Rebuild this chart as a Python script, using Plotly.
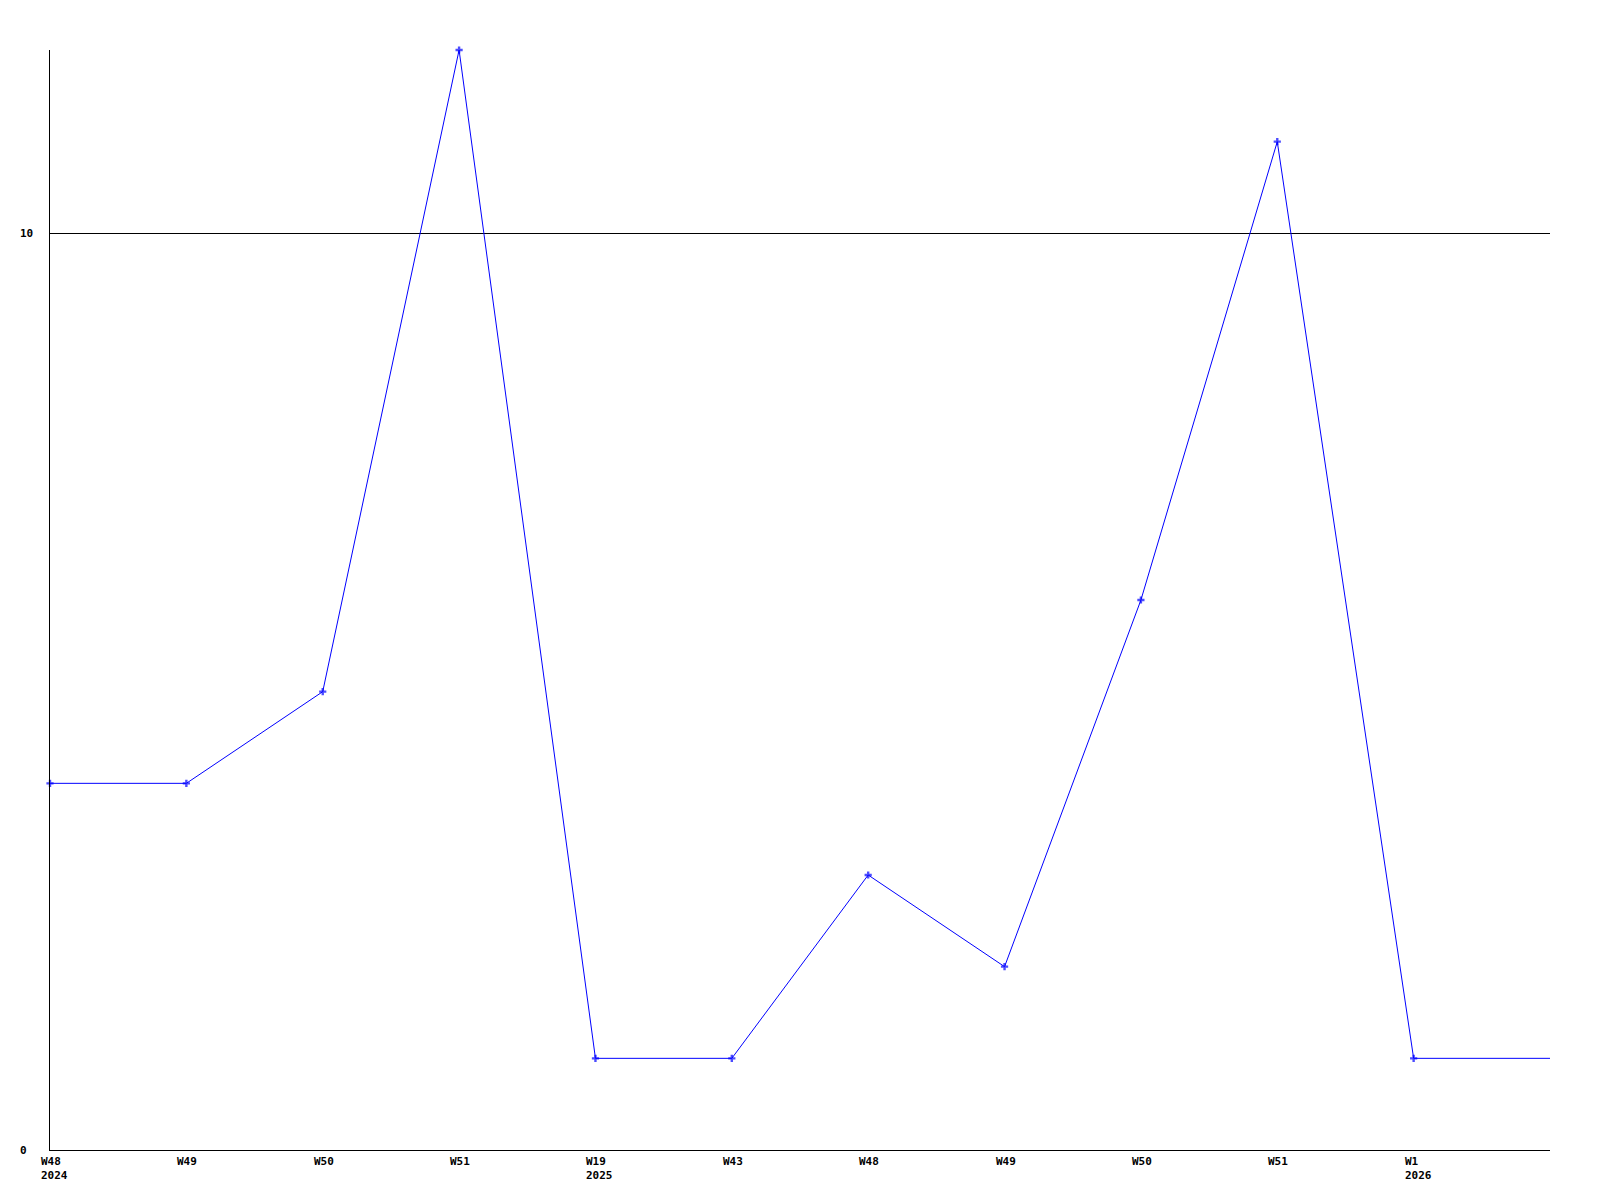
import plotly.graph_objects as go

week_labels = ["W48", "W49", "W50", "W51", "W19", "W43", "W48", "W49", "W50", "W51", "W1", ""]
year_labels = ["2024", "", "", "", "2025", "", "", "", "", "", "2026", ""]
values = [4, 4, 5, 12, 1, 1, 3, 2, 6, 11, 1, 1]
y_ticks = [0, 10]

idx = list(range(len(values)))
marker_sizes = [6] * (len(values) - 1) + [0]

fig = go.Figure()
fig.add_trace(go.Scatter(
    x=idx, y=values, mode="lines+markers",
    line=dict(color="#0000ff", width=1),
    marker=dict(symbol="cross", size=marker_sizes, color="#0000ff", line=dict(width=0)),
    cliponaxis=False, hoverinfo="skip",
))

font = dict(family="DejaVu Sans Mono", size=11, color="#000000", weight="bold")
annotations = []
for i, (w, yr) in enumerate(zip(week_labels, year_labels)):
    if not w:
        continue
    text = w + ("<br>" + yr if yr else "")
    annotations.append(dict(
        x=i, y=0, xref="x", yref="paper", text=text, showarrow=False,
        xanchor="left", yanchor="top", align="left", xshift=-11, yshift=-3,
        font=font,
    ))
for t in y_ticks:
    annotations.append(dict(
        x=0, y=t, xref="paper", yref="y", text=str(t), showarrow=False,
        xanchor="left", yanchor="middle", xshift=-32, font=font,
    ))

fig.update_layout(
    width=1584, height=1184,
    margin=dict(l=42, r=42, t=42, b=42),
    paper_bgcolor="white", plot_bgcolor="white",
    showlegend=False,
    annotations=annotations,
    xaxis=dict(range=[0, len(values) - 1], showgrid=False, zeroline=False,
               showticklabels=False, ticks="", showline=True, linecolor="black",
               linewidth=1, mirror=False),
    yaxis=dict(range=[0, 12], tickvals=[10], showgrid=True, gridcolor="black",
               gridwidth=1, zeroline=False, showticklabels=False, ticks="",
               showline=True, linecolor="black", linewidth=1),
)

fig.write_html("out.html")
